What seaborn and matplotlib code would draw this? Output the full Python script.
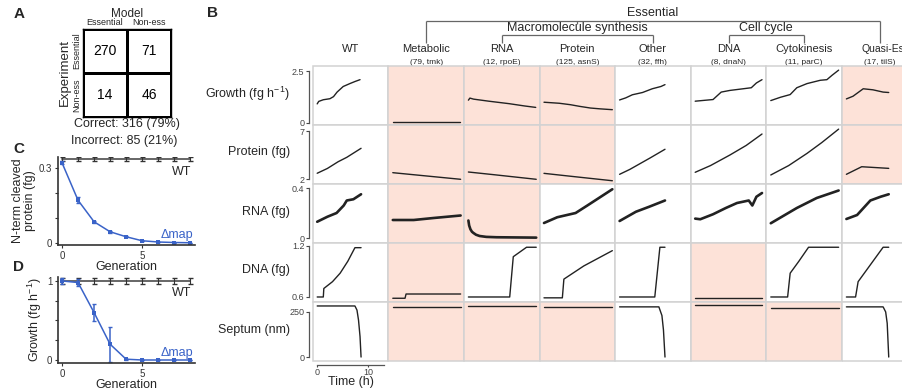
import numpy as np
import pandas as pd
import matplotlib
matplotlib.use("Agg")
import matplotlib.pyplot as plt
import seaborn as sns
from matplotlib.colors import ListedColormap
from matplotlib.patches import Rectangle

# --- data ---
confusion = [[270, 71], [14, 46]]
model_labels = ["Essential", "Non-ess"]

generations = [0, 1, 2, 3, 4, 5, 6, 7, 8]
wt_cleaved = [0.336, 0.336, 0.336, 0.336, 0.336, 0.336, 0.336, 0.336, 0.336]
wt_cleaved_err = [0.007, 0.007, 0.007, 0.007, 0.007, 0.007, 0.007, 0.007, 0.007]
map_cleaved = [0.32, 0.17, 0.084, 0.044, 0.024, 0.008, 0.003, 0.001, 0.0]
map_cleaved_err = [0.006, 0.012, 0.004, 0.003, 0.002, 0.001, 0.001, 0.0, 0.0]
wt_growth = [1.0, 1.0, 1.0, 1.0, 1.0, 1.0, 1.0, 1.0, 1.0]
wt_growth_err = [0.04, 0.04, 0.04, 0.04, 0.04, 0.04, 0.04, 0.04, 0.04]
map_growth = [1.0, 0.98, 0.6, 0.2, 0.01, 0.0, 0.0, 0.0, 0.0]
map_growth_err = [0.035, 0.04, 0.11, 0.22, 0.005, 0.0, 0.0, 0.0, 0.0]

columns = ["WT", "Metabolic", "RNA", "Protein", "Other", "DNA", "Cytokinesis", "Quasi-Essential"]
subtitles = ["", "(79, tmk)", "(12, rpoE)", "(125, asnS)", "(32, ffh)", "(8, dnaN)", "(11, parC)", "(17, tilS)"]
row_labels = ["Growth (fg h$^{-1}$)", "Protein (fg)", "RNA (fg)", "DNA (fg)", "Septum (nm)"]
row_ticks = [(0, 2.5), (2, 7), (0, 0.4), (0.6, 1.2), (0, 250)]
row_ticklabels = [("0", "2.5"), ("2", "7"), ("0", "0.4"), ("0.6", "1.2"), ("0", "250")]
row_lims = [(-0.1, 2.75), (1.48, 7.63), (-0.04, 0.432), (0.541, 1.235), (-22, 305)]

# 1 = phenotype differs from WT (shaded cell)
shaded = [
    [0, 1, 1, 1, 0, 0, 0, 1],
    [0, 1, 1, 1, 0, 0, 0, 1],
    [0, 1, 1, 0, 0, 0, 0, 0],
    [0, 1, 0, 0, 0, 1, 0, 0],
    [0, 1, 1, 1, 0, 1, 1, 0],
]

growth = {
    "WT": ([0, 0.3, 1.2, 2.5, 3.2, 3.9, 5.1, 6.4, 7.4, 8.4],
           [0.92, 1.04, 1.12, 1.17, 1.27, 1.49, 1.76, 1.9, 2.0, 2.09]),
    "Metabolic": ([0, 13.2], [0.05, 0.05]),
    "RNA": ([0, 0.3, 1.0, 4.0, 8.0, 11.0, 13.2], [1.1, 1.2, 1.15, 1.05, 0.93, 0.82, 0.75]),
    "Protein": ([0, 3, 5.2, 7, 9.1, 11, 13.4], [1.0, 0.95, 0.88, 0.8, 0.72, 0.68, 0.64]),
    "Other": ([0, 1.2, 2.5, 4.5, 6.4, 8.1, 8.9], [1.11, 1.21, 1.36, 1.47, 1.65, 1.76, 1.85]),
    "DNA": ([0, 3.5, 5.1, 6.8, 9.4, 11, 12, 13.1], [1.05, 1.13, 1.49, 1.57, 1.65, 1.7, 1.93, 2.09]),
    "Cytokinesis": ([0, 1.9, 3.8, 5.1, 7.1, 9.7, 11, 12, 13.3],
                    [1.08, 1.24, 1.37, 1.7, 1.9, 2.06, 2.09, 2.3, 2.55]),
    "Quasi-Essential": ([0, 1.3, 3.3, 5.2, 7.2, 8.3], [1.16, 1.29, 1.65, 1.6, 1.49, 1.47]),
}
protein = {
    "WT": ([0, 2, 4.1, 5.8, 8.6], [2.6, 3.1, 3.8, 4.26, 5.2]),
    "Metabolic": ([0, 5, 13.3], [2.66, 2.4, 1.97]),
    "RNA": ([0, 5, 13.3], [2.73, 2.45, 1.97]),
    "Protein": ([0, 5, 13.4], [2.59, 2.3, 1.82]),
    "Other": ([0, 2, 4.1, 6, 8.9], [2.49, 3.0, 3.63, 4.2, 5.1]),
    "DNA": ([0, 3, 6.8, 10, 13.1], [2.7, 3.4, 4.5, 5.5, 6.69]),
    "Cytokinesis": ([0, 3.5, 7.1, 10, 13.3], [2.42, 3.4, 4.67, 5.8, 7.2]),
    "Quasi-Essential": ([0, 3.0, 8.3], [2.49, 3.28, 3.11]),
}
rna = {
    "WT": ([0, 2, 3.8, 5.2, 5.8, 7.1, 8.6], [0.13, 0.17, 0.2, 0.26, 0.3, 0.31, 0.35]),
    "Metabolic": ([0, 4.1, 8, 13.3], [0.144, 0.144, 0.16, 0.18]),
    "RNA": ([0, 0.15, 0.4, 0.7, 1.0, 1.5, 2.2, 3.5, 5.5, 13.3],
            [0.14, 0.1, 0.07, 0.05, 0.04, 0.026, 0.016, 0.009, 0.006, 0.003]),
    "Protein": ([0, 2.6, 6.2, 8.5, 13.4], [0.12, 0.166, 0.2, 0.26, 0.39]),
    "Other": ([0, 3.2, 5.8, 8.9], [0.136, 0.21, 0.25, 0.30]),
    "DNA": ([0, 1, 3.5, 6, 8.2, 10.5, 11.2, 12, 13.1],
            [0.155, 0.15, 0.19, 0.24, 0.28, 0.3, 0.26, 0.33, 0.36]),
    "Cytokinesis": ([0, 5.1, 9, 13.3], [0.118, 0.24, 0.32, 0.38]),
    "Quasi-Essential": ([0, 2.1, 4.7, 6.7, 8.3], [0.152, 0.184, 0.30, 0.33, 0.35]),
}
dna = {
    "WT": ([0, 1.2, 1.3, 3, 4.5, 6, 7.4, 8.6], [0.6, 0.6, 0.7, 0.78, 0.88, 1.02, 1.18, 1.18]),
    "Metabolic": ([0, 2.4, 2.6, 13.3], [0.585, 0.585, 0.635, 0.635]),
    "RNA": ([0, 8.1, 8.8, 11.4, 13.3], [0.6, 0.6, 1.074, 1.185, 1.185]),
    "Protein": ([0, 3.6, 3.9, 7.8, 13.4], [0.59, 0.59, 0.81, 0.965, 1.145]),
    "Other": ([0, 6.9, 7.9, 8.9], [0.6, 0.6, 1.185, 1.185]),
    "DNA": ([0, 13.1], [0.59, 0.59]),
    "Cytokinesis": ([0, 3.3, 3.8, 5.5, 7.4, 13.3], [0.6, 0.6, 0.88, 1.02, 1.185, 1.185]),
    "Quasi-Essential": ([0, 1.8, 2.3, 7.2, 8.3], [0.6, 0.6, 0.78, 1.185, 1.185]),
}
septum = {
    "WT": ([0, 7.4, 7.8, 8.1, 8.4, 8.6], [283, 283, 260, 205, 113, 0]),
    "Metabolic": ([0, 13.3], [280, 280]),
    "RNA": ([0, 13.3], [283, 283]),
    "Protein": ([0, 13.4], [280, 280]),
    "Other": ([0, 7.7, 8.3, 8.6, 8.9], [278, 278, 230, 150, 0]),
    "DNA": ([0, 13.1], [287, 287]),
    "Cytokinesis": ([0, 13.3], [274, 274]),
    "Quasi-Essential": ([0, 7.2, 7.7, 8.0, 8.3], [278, 278, 250, 187, 0]),
}
row_data = [growth, protein, rna, dna, septum]

# --- style ---
sns.set_style("ticks")
plt.rcParams["font.family"] = ["Liberation Sans", "DejaVu Sans"]
plt.rcParams["mathtext.fontset"] = "custom"
plt.rcParams["mathtext.rm"] = "Liberation Sans"
plt.rcParams["mathtext.default"] = "regular"

PINK = "#fde2d8"
BORDER = "#d2d2d2"
BLUE = "#3a63c8"
INK = "#222222"
W, H = 902, 390


def px_box(left, top, width, height):
    return [left / W, 1 - (top + height) / H, width / W, height / H]


fig = plt.figure(figsize=(W / 100, H / 100), dpi=100)
ov = fig.add_axes([0, 0, 1, 1])
ov.set_xlim(0, W)
ov.set_ylim(H, 0)
ov.axis("off")

# --- A: confusion matrix ---
axA = fig.add_axes(px_box(83, 29, 88, 88))
cm = pd.DataFrame(confusion, index=model_labels, columns=model_labels)
sns.heatmap(cm, ax=axA, annot=True, fmt="d", cbar=False, cmap=ListedColormap(["white"]),
            linewidths=1, linecolor="black", annot_kws={"size": 10, "color": "black"})
for s in axA.spines.values():
    s.set_visible(True)
    s.set_color("black")
    s.set_linewidth(1)
axA.xaxis.tick_top()
axA.xaxis.set_label_position("top")
axA.set_xlabel("Model", fontsize=8.5, labelpad=1)
axA.set_ylabel("Experiment", fontsize=9.5, labelpad=1)
axA.tick_params(length=2, direction="in", pad=1.5, labelsize=6.5)
axA.set_yticklabels(model_labels, rotation=90, va="center")
axA.set_xticklabels(model_labels, rotation=0)

total = sum(map(sum, confusion))
correct = confusion[0][0] + confusion[1][1]
wrong = total - correct
ov.text(127, 124, f"Correct: {correct} ({correct / total:.0%})", ha="center", va="center", fontsize=9)
ov.text(124, 141, f"Incorrect: {wrong} ({wrong / total:.0%})", ha="center", va="center", fontsize=9)


# --- C, D: generation plots ---
def gen_panel(top, height, wt, wt_err, mut, mut_err, ylim, yticks, ylabels, ylabel, wt_y, mut_y):
    ax = fig.add_axes(px_box(58, top, 137, height))
    sns.lineplot(x=generations, y=wt, ax=ax, color="#666666", lw=1.4, estimator=None, legend=False)
    ax.errorbar(generations, wt, yerr=wt_err, fmt="none", ecolor="#333333", elinewidth=0.8, capsize=1.8)
    sns.lineplot(x=generations, y=mut, ax=ax, color=BLUE, lw=1.1, marker="s", markersize=2.5,
                 markeredgewidth=0, estimator=None, legend=False)
    ax.errorbar(generations, mut, yerr=mut_err, fmt="none", ecolor=BLUE, elinewidth=1.1, capsize=1.5)
    ax.set_xlim(-0.25, 8.3)
    ax.set_ylim(*ylim)
    ax.set_yticks(yticks)
    ax.set_yticklabels(ylabels)
    ax.set_xticks([0, 5])
    ax.tick_params(length=2.5, width=0.8, pad=1.5, labelsize=7, colors="#333333")
    sns.despine(ax=ax)
    for s in ("left", "bottom"):
        ax.spines[s].set_linewidth(1.2)
        ax.spines[s].set_color("#333333")
    ax.set_xlabel("Generation", fontsize=9, labelpad=0)
    ax.set_ylabel(ylabel, fontsize=9, labelpad=2, linespacing=1.0)
    ax.text(8.1, wt_y, "WT", ha="right", va="center", fontsize=9)
    ax.text(8.2, mut_y, "\u0394map", ha="right", va="center", fontsize=9, color=BLUE)
    return ax


gen_panel(157, 88, wt_cleaved, wt_cleaved_err, map_cleaved, map_cleaved_err, (-0.009, 0.343),
          [0, 0.1, 0.2, 0.3], ["0", "", "", "0.3"], "N-term cleaved\nprotein (fg)", 0.283, 0.031)
gen_panel(277, 86, wt_growth, wt_growth_err, map_growth, map_growth_err, (-0.038, 1.05),
          [0, 0.25, 0.5, 0.75, 1], ["0", "", "", "", "1"], "Growth (fg h$^{-1}$)", 0.85, 0.09)

# --- B: grid of simulated traces ---
col_left0, col_w = 312.7, 75.6
row_top0, row_h = 66, 59
time_lim = (-0.88, 13.94)
centers = [col_left0 + (c + 0.5) * col_w for c in range(len(columns))]

for r, traces in enumerate(row_data):
    for c, col in enumerate(columns):
        ax = fig.add_axes(px_box(col_left0 + c * col_w, row_top0 + r * row_h, col_w, row_h))
        ax.set_facecolor(PINK if shaded[r][c] else "white")
        t, y = traces[col]
        lw = 1.9 if r == 2 else 1.0
        sns.lineplot(x=t, y=y, ax=ax, color=INK, lw=lw, estimator=None, sort=False, legend=False,
                     solid_joinstyle="round", solid_capstyle="round")
        ax.set_xlim(*time_lim)
        ax.set_ylim(*row_lims[r])
        ax.set_xticks([])
        ax.set_yticks([])
        ax.set_xlabel("")
        ax.set_ylabel("")
        for s in ax.spines.values():
            s.set_visible(False)
        ax.add_patch(Rectangle((0, 0), 1, 1, transform=ax.transAxes, fill=False, ec=BORDER,
                               lw=1.1, clip_on=False, zorder=5))
        if c == 0:
            sp = ax.spines["left"]
            sp.set_visible(True)
            sp.set_position(("outward", 3))
            sp.set_bounds(*row_ticks[r])
            sp.set_color("#555555")
            sp.set_linewidth(0.9)
            ax.set_yticks(row_ticks[r])
            ax.set_yticklabels(row_ticklabels[r])
            ax.tick_params(axis="y", length=2, width=0.8, pad=1, labelsize=6.5, colors="#444444")
            ov.text(290, row_top0 + (r + 0.5) * row_h - 2, row_labels[r], ha="right", va="center",
                    fontsize=9)
            if r == len(row_data) - 1:
                sb = ax.spines["bottom"]
                sb.set_visible(True)
                sb.set_position(("outward", 3))
                sb.set_bounds(0, 13.1)
                sb.set_color("#555555")
                sb.set_linewidth(0.9)
                ax.set_xticks([0, 10])
                ax.set_xticklabels(["0", "10"])
                ax.tick_params(axis="x", length=1.5, width=0.8, pad=0.5, labelsize=6.5, colors="#444444")
                ax.set_xlabel("Time (h)", fontsize=9, labelpad=-1)

# column headers
for c, col in enumerate(columns):
    if c == len(columns) - 1:
        ov.text(862, 49, col, ha="left", va="center", fontsize=7.5)
    else:
        ov.text(centers[c], 49, col, ha="center", va="center", fontsize=8)
    ov.text(centers[c], 62, subtitles[c], ha="center", va="center", fontsize=6)

# bracket tree above the columns
br = dict(color="#666666", lw=0.9, solid_capstyle="butt")
ov.plot([centers[1], centers[7]], [21, 21], **br)
for c in (1, 7):
    ov.plot([centers[c], centers[c]], [21, 43], **br)
ov.text((centers[1] + centers[7]) / 2, 13, "Essential", ha="center", va="center", fontsize=9)
for a, b, name in ((2, 4, "Macromolecule synthesis"), (5, 6, "Cell cycle")):
    mid = (centers[a] + centers[b]) / 2
    ov.plot([centers[a], centers[b]], [35, 35], **br)
    ov.plot([centers[a], centers[a]], [35, 43], **br)
    ov.plot([centers[b], centers[b]], [35, 43], **br)
    ov.plot([mid, mid], [21, 24], **br)
    ov.text(mid, 28.5, name, ha="center", va="center", fontsize=9)

# panel letters
for letter, x, y in (("A", 19, 14), ("B", 213, 13), ("C", 19, 149), ("D", 19, 267)):
    ov.text(x, y, letter, ha="center", va="center", fontsize=11, fontweight="bold")

fig.savefig("out.png", dpi=100)
